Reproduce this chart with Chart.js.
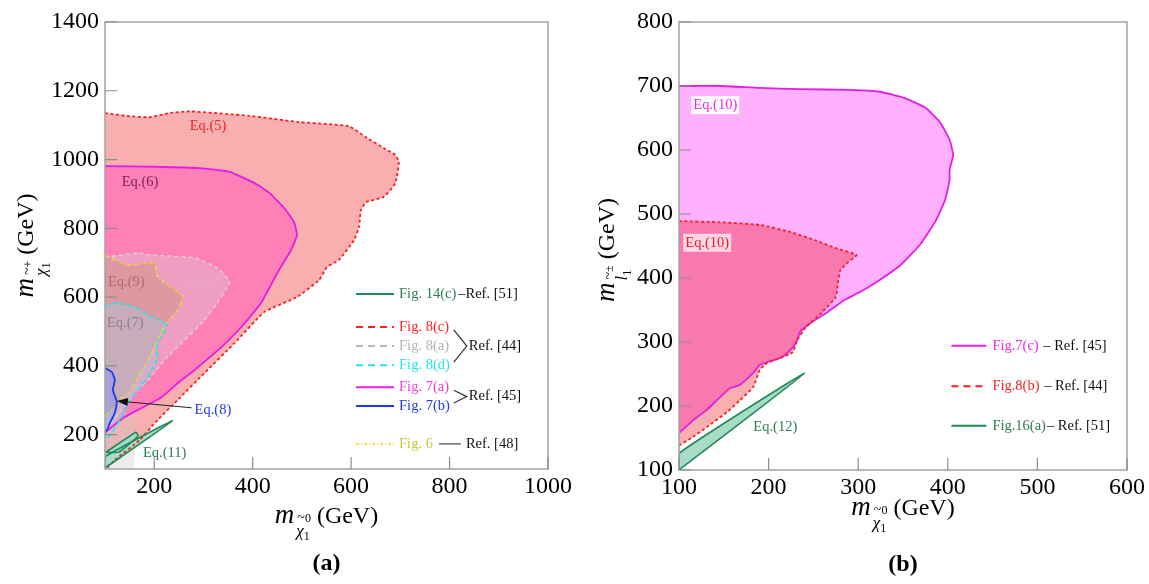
<!DOCTYPE html>
<html>
<head>
<meta charset="utf-8">
<script src="https://cdn.jsdelivr.net/npm/chart.js@4.4.0/dist/chart.umd.min.js"></script>
<style>
  html, body { margin: 0; padding: 0; background: #fff; }
  #wrap { position: relative; width: 1149px; height: 584px; overflow: hidden; }
  canvas { position: absolute; top: 0; }
  #cA { left: 0; }
  #cB { left: 575px; }
</style>
</head>
<body>
<div id="wrap">
  <canvas id="cA" width="575" height="584"></canvas>
  <canvas id="cB" width="574" height="584"></canvas>
</div>
<script>
// ---------- panel (a): neutralino / chargino masses ----------
const xTicksA = [200, 400, 600, 800, 1000];
const yTicksA = [200, 400, 600, 800, 1000, 1200, 1400];

// Fig. 8(c), Ref. [44] -> Eq.(5)
const eq5Region = [[100,1135],[150,1126],[191,1123],[230,1135],[272,1140],[393,1127],[494,1109],[595,1097],
  [630,1065],[670,1030],[690,1013],[697,993],[690,932],[666,891],[630,876],[620,853],[616,804],[606,766],
  [575,708],[551,687],[535,650],[490,600],[424,557],[363,466],[302,379],[248,301],[207,243],[171,185],
  [120,126],[104,103],[100,100]];
// Fig. 7(a), Ref. [45] -> Eq.(6)
const eq6Region = [[100,981],[200,979],[292,975],[353,964],[403,932],[434,903],[464,859],[484,818],[490,780],
  [478,737],[450,670],[417,583],[377,513],[337,455],[282,388],[248,350],[215,309],[167,272],[140,251],
  [106,213],[100,205]];
// Fig. 8(a), Ref. [44] -> Eq.(6)
const eq6bRegion = [[100,716],[167,728],[195,722],[282,714],[328,685],[353,644],[328,583],[302,533],[262,475],
  [227,426],[187,359],[155,309],[134,272],[110,228],[100,210]];
// Fig. 6, Ref. [48] -> Eq.(9)
const eq9Region = [[100,722],[147,693],[201,699],[207,658],[242,621],[258,600],[248,562],[225,525],[207,475],
  [195,437],[175,388],[161,350],[147,321],[130,301],[114,272],[100,255]];
// Fig. 8(d), Ref. [44] -> Eq.(7)
const eq7Region = [[100,577],[126,583],[161,571],[195,542],[221,527],[225,513],[207,466],[205,417],[187,368],
  [167,330],[147,292],[134,251],[114,205],[100,185]];
// Fig. 7(b), Ref. [45] -> Eq.(8)
const eq8Region = [[100,394],[114,382],[120,359],[116,330],[124,295],[120,263],[110,234],[104,213],[100,210]];
// Fig. 14(c), Ref. [51] -> Eq.(11)
const eq11Wedge = [[100,103],[237,240],[100,135]];
const eq11Loop = [[102,149],[163,207],[167,196],[128,149]];
// shaded low-mass strip
const stripA = [[100,100],[157,100],[157,260],[100,260]];

// ---------- panel (b): neutralino / slepton masses ----------
const xTicksB = [100, 200, 300, 400, 500, 600];
const yTicksB = [100, 200, 300, 400, 500, 600, 700, 800];

// Fig. 7(c), Ref. [45] -> Eq.(10)
const eq10Region = [[100,700],[146,700],[190,697],[235,695],[291,694],[324,691],[352,681],[375,666],[391,644],
  [402,616],[406,592],[402,569],[402,553],[397,522],[386,488],[369,452],[347,420],[324,397],[302,378],
  [285,366],[266,347],[248,331],[235,316],[232,303],[227,292],[221,283],[213,275],[202,270],[190,264],
  [183,252],[168,233],[157,228],[146,214],[131,194],[116,178],[101,159],[100,158]];
// Fig. 8(b), Ref. [44] -> Eq.(10)
const eq10bRegion = [[100,489],[146,487],[190,483],[224,472],[252,459],[274,447],[298,436],[289,425],[280,412],
  [277,389],[275,370],[260,347],[241,322],[232,303],[227,284],[213,275],[198,267],[190,256],[183,230],
  [168,209],[154,191],[131,167],[116,152],[101,139],[100,138]];
// Fig. 16(a), Ref. [51] -> Eq.(12)
const eq12Region = [[100,100],[240,251],[100,126]];

// ---------- styling ----------
const LS = '"Liberation Serif", "Times New Roman", serif';
const C = {
  red: '#ff1e1e', redText: '#ee2020',
  mag: '#e41ee4', magText: '#f03ad8',
  blue: '#2038f0', cyan: '#22e4ea', yellow: '#ecdc1e', yellowText: '#c8c832',
  gray: '#d6d6d6', grayText: '#b4b4b4',
  green: '#1e8a5a', greenText: '#2a7c52',
  salmon: '#f9afaf', hotpink: '#ff80b6', lightmag: '#ffb1ff', lightgreen: '#a8dcc8'
};

const pts = arr => arr.map(([x, y]) => ({ x, y }));
const closed = arr => pts([...arr, arr[0]]);

function fillSet(arr, color, blend) {
  return { data: closed(arr), showLine: true, fill: 'shape', backgroundColor: color,
           borderColor: 'rgba(0,0,0,0)', borderWidth: 0, pointRadius: 0, blend };
}
function strokeSet(arr, color, width, dash, close) {
  return { data: close ? closed(arr) : pts(arr), showLine: true, fill: false, borderColor: color,
           borderWidth: width, borderDash: dash || [], pointRadius: 0 };
}
function ordered(list) {
  list.forEach((d, i) => { d.order = list.length - i; });
  return list;
}

// per-dataset composite mode (the filler paints before each dataset, so the mode is set one step early)
function setNextBlend(chart, meta) {
  const metas = chart.getSortedVisibleDatasetMetas();
  const i = meta ? metas.indexOf(meta) - 1 : metas.length - 1;
  const next = metas[i];
  const ds = next ? chart.data.datasets[next.index] : null;
  chart.ctx.globalCompositeOperation = (ds && ds.blend) || 'source-over';
}
const blendPlugin = {
  id: 'blend',
  beforeDatasetsDraw(chart) { setNextBlend(chart, null); },
  afterDatasetDraw(chart, args) { setNextBlend(chart, args.meta); },
  afterDatasetsDraw(chart) { chart.ctx.globalCompositeOperation = 'source-over'; }
};

// axis title: m with a stacked tilde-particle subscript, then (GeV)
function mathTitle(ctx, sup, base) {
  ctx.font = `italic 27px ${LS}`; const wm = ctx.measureText('m').width;
  ctx.font = `italic 17px ${LS}`; const wb = ctx.measureText(base).width;
  ctx.font = `12px ${LS}`; const w1 = ctx.measureText('1').width; const wsup = ctx.measureText(sup).width;
  ctx.font = `14px ${LS}`; const wt = ctx.measureText('~').width;
  ctx.font = `24px ${LS}`; const wu = ctx.measureText('(GeV)').width;
  const ws = Math.max(wb + w1, wt + wsup + 1);
  const total = wm + 2 + ws + 6 + wu;
  const x0 = -total / 2;
  ctx.textAlign = 'left'; ctx.textBaseline = 'alphabetic'; ctx.fillStyle = '#000';
  ctx.font = `italic 27px ${LS}`; ctx.fillText('m', x0, 0);
  const sx = x0 + wm + 2;
  ctx.font = `14px ${LS}`; ctx.fillText('~', sx + 1, -1);
  ctx.font = `12px ${LS}`; ctx.fillText(sup, sx + 1 + wt, -1);
  ctx.font = `italic 17px ${LS}`; ctx.fillText(base, sx, 13);
  ctx.font = `12px ${LS}`; ctx.fillText('1', sx + wb, 17);
  ctx.font = `24px ${LS}`; ctx.fillText('(GeV)', sx + ws + 6, 0);
}

function legendLine(ctx, x0, y, len, color, dash, width) {
  ctx.save();
  ctx.strokeStyle = color; ctx.lineWidth = width || 2; ctx.setLineDash(dash || []);
  ctx.beginPath(); ctx.moveTo(x0, y); ctx.lineTo(x0 + len, y); ctx.stroke();
  ctx.restore();
}
function brace(ctx, x, yTop, yBot) {
  ctx.save();
  ctx.strokeStyle = '#333'; ctx.lineWidth = 1.2; ctx.setLineDash([]);
  ctx.beginPath(); ctx.moveTo(x, yTop); ctx.lineTo(x + 13, (yTop + yBot) / 2); ctx.lineTo(x, yBot); ctx.stroke();
  ctx.restore();
  return x + 15;
}

function decor(cfg) {
  return {
    id: 'decor',
    afterDraw(chart) {
      const { ctx, chartArea: a, scales: { x, y } } = chart;
      ctx.save();
      // frame
      ctx.setLineDash([]);
      ctx.strokeStyle = '#a2a2a2'; ctx.lineWidth = 1.5;
      ctx.strokeRect(a.left, a.top, a.right - a.left, a.bottom - a.top);
      // inward tick marks
      ctx.strokeStyle = '#8c8c8c'; ctx.lineWidth = 1.2;
      ctx.beginPath();
      cfg.xTicks.forEach(v => { const p = x.getPixelForValue(v); ctx.moveTo(p, a.bottom); ctx.lineTo(p, a.bottom - 12); });
      cfg.yTicks.forEach(v => { const p = y.getPixelForValue(v); ctx.moveTo(a.left, p); ctx.lineTo(a.left + 12, p); });
      ctx.stroke();
      // arrow
      if (cfg.arrow) {
        const [fx, fy, tx, ty] = cfg.arrow;
        const x1 = x.getPixelForValue(fx), y1 = y.getPixelForValue(fy);
        const x2 = x.getPixelForValue(tx), y2 = y.getPixelForValue(ty);
        const ang = Math.atan2(y2 - y1, x2 - x1);
        ctx.strokeStyle = '#222'; ctx.fillStyle = '#111'; ctx.lineWidth = 1;
        ctx.beginPath(); ctx.moveTo(x1, y1); ctx.lineTo(x2 - 8 * Math.cos(ang), y2 - 8 * Math.sin(ang)); ctx.stroke();
        ctx.beginPath();
        ctx.moveTo(x2, y2);
        ctx.lineTo(x2 - 11 * Math.cos(ang) + 4 * Math.sin(ang), y2 - 11 * Math.sin(ang) - 4 * Math.cos(ang));
        ctx.lineTo(x2 - 11 * Math.cos(ang) - 4 * Math.sin(ang), y2 - 11 * Math.sin(ang) + 4 * Math.cos(ang));
        ctx.closePath(); ctx.fill();
      }
      // region labels
      ctx.textAlign = 'left'; ctx.textBaseline = 'middle';
      cfg.labels.forEach(l => {
        const px = x.getPixelForValue(l.x), py = y.getPixelForValue(l.y);
        ctx.font = `14.5px ${LS}`;
        const w = ctx.measureText(l.text).width;
        if (l.bg) { ctx.fillStyle = l.bg; ctx.fillRect(px - 2, py - 9, w + 4, 18); }
        ctx.fillStyle = l.color; ctx.fillText(l.text, px, py);
      });
      // legend
      cfg.legend(ctx, x, y);
      // axis titles and panel tag
      const cx = (a.left + a.right) / 2, cy = (a.top + a.bottom) / 2;
      ctx.save(); ctx.translate(cx, a.bottom + cfg.xTitleGap); mathTitle(ctx, '0', 'χ'); ctx.restore();
      ctx.save(); ctx.translate(cfg.yTitleX, cy + cfg.yTitleShift); ctx.rotate(-Math.PI / 2);
      mathTitle(ctx, cfg.ySup, cfg.yBase); ctx.restore();
      ctx.font = `bold 24px ${LS}`; ctx.fillStyle = '#000'; ctx.textAlign = 'center'; ctx.textBaseline = 'alphabetic';
      ctx.fillText(cfg.tag, cx, a.bottom + 101);
      ctx.restore();
    }
  };
}

// legend of panel (a)
const legendRowsA = [
  { key: 'Fig. 14(c)', y: 609, line: C.green, text: C.greenText, dash: [], tail: '–Ref. [51]' },
  { key: 'Fig. 8(c)', y: 513, line: C.red, text: C.red, dash: [7, 5] },
  { key: 'Fig. 8(a)', y: 458, line: '#b8b8b8', text: C.grayText, dash: [7, 5] },
  { key: 'Fig. 8(d)', y: 402, line: C.cyan, text: C.cyan, dash: [7, 5] },
  { key: 'Fig. 7(a)', y: 338, line: C.mag, text: C.magText, dash: [] },
  { key: 'Fig. 7(b)', y: 283, line: C.blue, text: C.blue, dash: [] },
  { key: 'Fig. 6', y: 173, line: C.yellow, text: C.yellowText, dash: [3, 2, 1, 2], width: 1.5, ref: 'Ref. [48]' }
];
const legendGroupsA = [{ rows: [1, 2, 3], ref: 'Ref. [44]' }, { rows: [4, 5], ref: 'Ref. [45]' }];

function legendA(ctx, x, y) {
  const x0 = x.getPixelForValue(610), len = 38, tx = x0 + 43;
  ctx.font = `14.5px ${LS}`; ctx.textAlign = 'left'; ctx.textBaseline = 'middle';
  legendRowsA.forEach(r => {
    const py = y.getPixelForValue(r.y);
    legendLine(ctx, x0, py, len, r.line, r.dash, r.width);
    ctx.fillStyle = r.text; ctx.fillText(r.key, tx, py);
    const w = ctx.measureText(r.key).width;
    if (r.tail) { ctx.fillStyle = '#111'; ctx.fillText(r.tail, tx + w + 2, py); }
    if (r.ref) {
      legendLine(ctx, tx + w + 6, py, 22, '#555', [], 1.3);
      ctx.fillStyle = '#111'; ctx.fillText(r.ref, tx + w + 33, py);
    }
  });
  legendGroupsA.forEach(g => {
    const ys = g.rows.map(i => y.getPixelForValue(legendRowsA[i].y));
    const wmax = Math.max(...g.rows.map(i => ctx.measureText(legendRowsA[i].key).width));
    const bx = brace(ctx, tx + wmax + 4, ys[0] + 3, ys[ys.length - 1] - 3);
    ctx.fillStyle = '#111'; ctx.fillText(g.ref, bx, (ys[0] + ys[ys.length - 1]) / 2);
  });
}

// legend of panel (b)
const legendRowsB = [
  { key: 'Fig.7(c)', y: 294, line: C.mag, text: '#f02ae8', dash: [], tail: ' – Ref. [45]' },
  { key: 'Fig.8(b)', y: 231, line: C.red, text: C.red, dash: [7, 5], tail: ' – Ref. [44]' },
  { key: 'Fig.16(a)', y: 169, line: C.green, text: C.greenText, dash: [], tail: '– Ref. [51]' }
];
function legendB(ctx, x, y) {
  const x0 = x.getPixelForValue(404), len = 35, tx = x0 + 41;
  ctx.font = `14.5px ${LS}`; ctx.textAlign = 'left'; ctx.textBaseline = 'middle';
  legendRowsB.forEach(r => {
    const py = y.getPixelForValue(r.y);
    legendLine(ctx, x0, py, len, r.line, r.dash, r.width);
    ctx.fillStyle = r.text; ctx.fillText(r.key, tx, py);
    const w = ctx.measureText(r.key).width;
    ctx.fillStyle = '#111'; ctx.fillText(r.tail, tx + w + 1, py);
  });
}

function scaleOpts(min, max, ticks, fitKey, fitVal, pad) {
  return {
    type: 'linear', min, max,
    afterBuildTicks: s => { s.ticks = ticks.map(v => ({ value: v })); },
    afterFit: s => { s[fitKey] = fitVal; },
    grid: { display: false, drawTicks: false },
    border: { display: false },
    ticks: { font: { family: LS, size: 24 }, color: '#000', padding: pad, maxRotation: 0, autoSkip: false,
             callback: v => String(v) }
  };
}

function baseOptions(padRight, xs, ys) {
  return {
    responsive: false, animation: false, events: [],
    layout: { padding: { top: 22, right: padRight, left: 0, bottom: 0 } },
    plugins: { legend: { display: false }, tooltip: { enabled: false } },
    elements: { line: { tension: 0.15 } },
    scales: { x: xs, y: ys }
  };
}

// ---------- chart (a) ----------
const datasetsA = ordered([
  fillSet(eq5Region, C.salmon),
  fillSet(eq6Region, C.hotpink),
  fillSet(eq6bRegion, 'rgba(212,210,216,0.36)'),
  fillSet(eq9Region, 'rgba(198,142,112,0.40)'),
  fillSet(eq7Region, 'rgba(167,200,222,0.42)'),
  fillSet(eq8Region, 'rgba(130,146,252,0.45)'),
  fillSet(stripA, 'rgba(200,200,200,0.32)'),
  fillSet(eq11Wedge, C.lightgreen),
  fillSet(eq11Loop, C.lightgreen),
  strokeSet(eq5Region, C.red, 1.8, [3, 2.5]),
  strokeSet(eq6Region, C.mag, 1.8),
  strokeSet(eq6bRegion, C.gray, 1.3, [4, 3]),
  strokeSet(eq9Region, C.yellow, 1.6, [3, 2, 1, 2]),
  strokeSet(eq7Region, C.cyan, 1.6, [5, 3]),
  strokeSet(eq8Region, C.blue, 1.8),
  strokeSet(eq11Wedge, C.green, 1.6, [], true),
  strokeSet(eq11Loop, C.green, 1.6, [], true)
]);

const labelsA = [
  { text: 'Eq.(5)', x: 272, y: 1097, color: '#e02828' },
  { text: 'Eq.(6)', x: 134, y: 935, color: '#7c1f5c' },
  { text: 'Eq.(9)', x: 106, y: 644, color: '#b0686e' },
  { text: 'Eq.(6)', x: 262, y: 644, color: '#e6a8c8' },
  { text: 'Eq.(7)', x: 104, y: 525, color: '#8e8088' },
  { text: 'Eq.(8)', x: 282, y: 272, color: C.blue },
  { text: 'Eq.(11)', x: 177, y: 147, color: C.greenText }
];

new Chart(document.getElementById('cA'), {
  type: 'scatter',
  data: { datasets: datasetsA },
  options: baseOptions(25, scaleOpts(100, 1000, xTicksA, 'height', 115, 3), scaleOpts(100, 1400, yTicksA, 'width', 105, 6)),
  plugins: [blendPlugin, decor({
    xTicks: xTicksA, yTicks: yTicksA, labels: labelsA, legend: legendA,
    arrow: [276, 278, 124, 298],
    xTitleGap: 54, yTitleX: 33, yTitleShift: 0, ySup: '+', yBase: 'χ', tag: '(a)'
  })]
});

// ---------- chart (b) ----------
const datasetsB = ordered([
  fillSet(eq10Region, C.lightmag),
  fillSet(eq10bRegion, C.salmon, 'multiply'),
  fillSet(eq12Region, C.lightgreen),
  strokeSet(eq10Region, C.mag, 1.8),
  strokeSet(eq10bRegion, C.red, 1.8, [3, 2.5]),
  strokeSet(eq12Region, C.green, 1.6, [], true)
]);

const labelsB = [
  { text: 'Eq.(10)', x: 116, y: 670, color: '#f020f0', bg: '#ffffff' },
  { text: 'Eq.(10)', x: 107, y: 455, color: '#e82020', bg: 'rgba(255,255,255,0.7)' },
  { text: 'Eq.(12)', x: 183, y: 167, color: C.greenText }
];

new Chart(document.getElementById('cB'), {
  type: 'scatter',
  data: { datasets: datasetsB },
  options: baseOptions(22, scaleOpts(100, 600, xTicksB, 'height', 114, 3), scaleOpts(100, 800, yTicksB, 'width', 104, 6)),
  plugins: [blendPlugin, decor({
    xTicks: xTicksB, yTicks: yTicksB, labels: labelsB, legend: legendB,
    xTitleGap: 45, yTitleX: 39, yTitleShift: 4, ySup: '±', yBase: 'l', tag: '(b)'
  })]
});
</script>
</body>
</html>
